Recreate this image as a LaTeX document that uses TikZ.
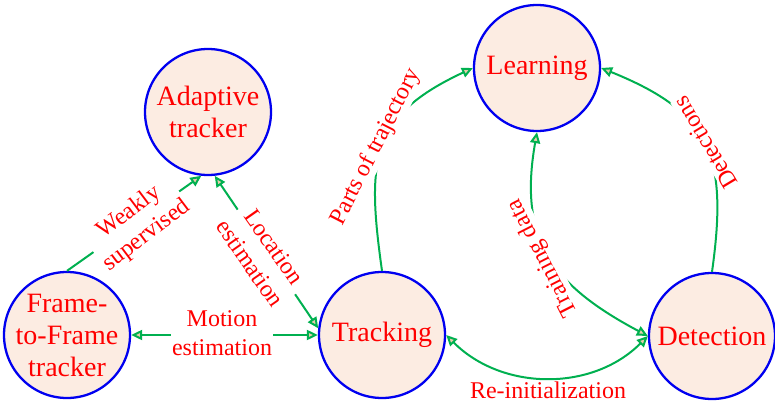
\documentclass[tikz,border=0pt]{standalone}
\usepackage{fontspec}
\setmainfont{Liberation Serif}
\usetikzlibrary{arrows.meta}
\definecolor{ringblue}{RGB}{0,0,240}
\definecolor{discfill}{RGB}{252,236,226}
\definecolor{linkgreen}{RGB}{0,176,80}
\definecolor{tipfill}{RGB}{232,205,172}
\definecolor{txtred}{RGB}{255,0,0}

\begin{document}
\begin{tikzpicture}[x=1pt,y=1pt,
  stage/.style={circle, draw=ringblue, line width=2.3pt, fill=discfill,
    minimum size=126pt, inner sep=0pt},
  stagetext/.style={text=txtred, font=\fontsize{28}{32}\selectfont,
    align=center, inner sep=0pt},
  link/.style={draw=linkgreen, line width=2pt,
    -{Triangle[length=11pt,width=10pt,fill=tipfill]}},
  twolink/.style={draw=linkgreen, line width=2pt,
    {Triangle[length=11pt,width=10pt,fill=tipfill]}-{Triangle[length=11pt,width=10pt,fill=tipfill]}},
  tag/.style={fill=white, text=txtred, font=\fontsize{24}{29}\selectfont,
    align=center, inner sep=1pt}]

\useasboundingbox (0,0) rectangle (775,405);

% stages
\node[stage] (adp) at (208,293) {};
\node[stage] (f2f) at (67,70) {};
\node[stage] (trk) at (382,70) {};
\node[stage] (lrn) at (537,337) {};
\node[stage] (det) at (712,69) {};

\node[stagetext] at (adp) {Adaptive\\tracker};
\node[stagetext] at (f2f) {Frame-\\to-Frame\\tracker};
\node[stagetext] at (trk) {Tracking};
\node[stagetext] at (lrn) {Learning};
\node[stagetext] at (det) {Detection};

% connectors
\draw[link] (f2f.north) -- (adp.-96);
\draw[twolink] (adp.-84) -- (trk.174);
\draw[twolink] (f2f.east) -- (trk.west);
\draw[link] (trk.north) to[out=98,in=205,looseness=1.3] (lrn.west);
\draw[link] (det.north) to[out=82,in=-22,looseness=1.3] (lrn.east);
\draw[twolink] (lrn.south) to[out=-100,in=152,looseness=1.2] (det.west);
\draw[twolink] (trk.east) to[out=-45,in=225] (det.west);

% connector labels
\node[tag, rotate=37] at (138,181) {Weakly\\supervised};
\node[tag, rotate=-55] at (262,150) {Location\\estimation};
\node[tag] at (222,72) {Motion\\estimation};
\node[tag, rotate=63] at (376,258) {Parts of trajectory};
\node[tag, rotate=121] at (705,262) {Detections};
\node[tag, rotate=117] at (543,147) {Training data};
\node[tag] at (548,15) {Re-initialization};
\end{tikzpicture}
\end{document}
